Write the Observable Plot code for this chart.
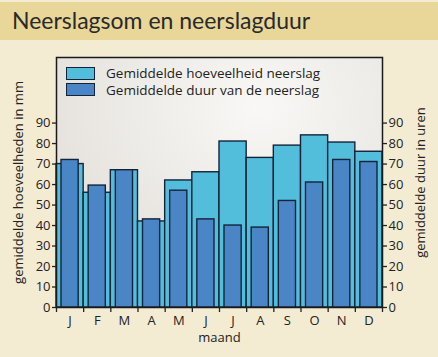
<!DOCTYPE html>
<html>
<head>
<meta charset="utf-8">
<script src="https://cdn.jsdelivr.net/npm/d3@7"></script>
<script src="https://cdn.jsdelivr.net/npm/@observablehq/plot@0.6"></script>
<style>
  html, body { margin: 0; padding: 0; background: #f4ebd3; }
  #wrap { position: relative; width: 438px; height: 357px; overflow: hidden; font-family: "Open Sans", sans-serif; color: #222; }
  #title { position: absolute; left: 0; top: 2px; width: 438px; height: 38px; background: #e9d699; }
  #title span { position: absolute; left: 12px; top: 4px; font-family: Lato, sans-serif; font-size: 23px; line-height: 28px; color: #2a2a2a; }
  #chart { position: absolute; left: 0; top: 0; }
  .sw { position: absolute; left: 66px; width: 27px; height: 11px; border: 1.2px solid #14233a; }
  #legtext { position: absolute; left: 106px; top: 65px; font-size: 13.5px; line-height: 16.5px; color: #222; white-space: nowrap; }
</style>
</head>
<body>
<div id="wrap">
  <div id="chart"></div>
  <div id="title"><span>Neerslagsom en neerslagduur</span></div>
  <div class="sw" style="top:67px; background:#52bedb"></div>
  <div class="sw" style="top:83px; background:#4a85c5"></div>
  <div id="legtext">Gemiddelde hoeveelheid neerslag<br>Gemiddelde duur van de neerslag</div>
</div>
<script>
const months = ["J", "F", "M", "A", "M", "J", "J", "A", "S", "O", "N", "D"];
const amount = [70, 56, 67, 42, 62, 66, 81, 73, 79, 84, 80.5, 76];
const duration = [72, 59.5, 67, 43, 57, 43, 40, 39, 52, 61, 72, 71];
const yTicks = [0, 10, 20, 30, 40, 50, 60, 70, 80, 90];

const rows = months.map((m, i) => ({i, month: m, amount: amount[i], duration: duration[i]}));

const defs = () => {
  const g = d3.create("svg:defs");
  const rg = g.append("radialGradient").attr("id", "bgGrad")
    .attr("cx", 0.62).attr("cy", 0.2).attr("r", 0.85);
  rg.append("stop").attr("offset", "0%").attr("stop-color", "#f9f8f6");
  rg.append("stop").attr("offset", "100%").attr("stop-color", "#e0dcd6");
  return g.node();
};

const stroke = "#14233a";
const chart = Plot.plot({
  width: 438,
  height: 357,
  marginLeft: 56,
  marginRight: 56,
  marginTop: 57,
  marginBottom: 50,
  style: {background: "transparent", fontFamily: "Open Sans, sans-serif", fontSize: "13px", color: "#222"},
  x: {type: "linear", domain: [0, 12]},
  y: {domain: [0, 122]},
  marks: [
    defs,
    Plot.frame({fill: "url(#bgGrad)", stroke: "none"}),
    Plot.rectY(rows, {x1: "i", x2: d => d.i + 1, y: "amount", fill: "#52bedb", stroke, strokeWidth: 1.4}),
    Plot.rectY(rows, {x1: "i", x2: d => d.i + 1, y: "duration", fill: "#4a85c5", stroke, strokeWidth: 1.4, insetLeft: 5, insetRight: 5}),
    Plot.frame({stroke: "#1a1a1a", strokeWidth: 1.5}),
    Plot.axisY({anchor: "left", ticks: yTicks, tickSize: 4, tickPadding: 2, strokeWidth: 1.3,
      label: "gemiddelde hoeveelheden in mm", labelAnchor: "center", labelArrow: "none", labelOffset: 43}),
    Plot.axisY({anchor: "right", ticks: yTicks, tickSize: 4, tickPadding: 2, strokeWidth: 1.3,
      label: "gemiddelde duur in uren", labelAnchor: "center", labelArrow: "none", labelOffset: 42}),
    Plot.axisX({ticks: d3.range(13), tickSize: 5, tickFormat: () => "", strokeWidth: 1.3, label: null}),
    Plot.axisX({ticks: months.map((m, i) => i + 0.5), tickSize: 0, tickPadding: 8,
      tickFormat: d => months[Math.floor(d)], label: "maand", labelAnchor: "center", labelArrow: "none", labelOffset: 34})
  ]
});
document.getElementById("chart").append(chart);
</script>
</body>
</html>
